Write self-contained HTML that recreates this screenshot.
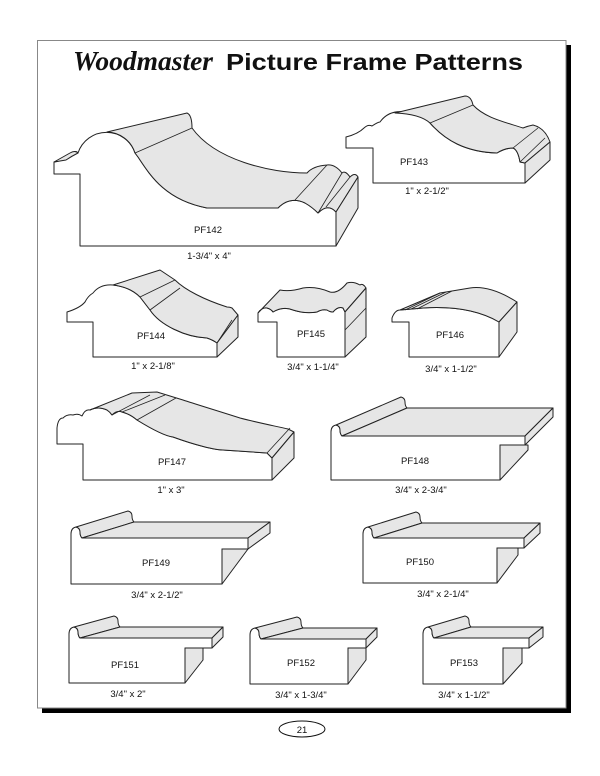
<!DOCTYPE html>
<html><head><meta charset="utf-8"><style>
html,body{margin:0;padding:0;background:#fff;}
svg{display:block;}
text{font-family:"Liberation Sans",sans-serif;fill:#111;}
.f{fill:#fff;stroke:#222;stroke-width:1;stroke-linejoin:round;}
.g{fill:#e6e6e6;stroke:#222;stroke-width:1;stroke-linejoin:round;}
.l{fill:none;stroke:#222;stroke-width:0.8;}
.lb{font-size:9.5px;text-anchor:middle;}
</style></head><body>
<svg width="600" height="776" viewBox="0 0 600 776" xmlns="http://www.w3.org/2000/svg">
<rect x="0" y="0" width="600" height="776" fill="#fff"/>
<!-- frame -->
<rect x="566" y="45" width="5" height="668" fill="#000"/>
<rect x="42" y="708" width="529" height="5" fill="#000"/>
<rect x="37.5" y="40.5" width="528.5" height="667.5" fill="none" stroke="#888" stroke-width="1"/>
<!-- title -->
<text x="73" y="70" font-family="Liberation Serif,serif" font-style="italic" font-weight="bold" font-size="27" textLength="140" lengthAdjust="spacingAndGlyphs" style="font-family:'Liberation Serif',serif">Woodmaster</text>
<text x="226" y="70" font-weight="bold" font-size="23" textLength="297" lengthAdjust="spacingAndGlyphs">Picture Frame Patterns</text>

<!-- PF142 -->
<path class="f" d="M54,174 L54,162 Q66,160 72,153 Q76,150 78,153 A30,30 0 0 1 135,153 L138,157 C150,175 165,200 207,208 L278,208 Q290,196 305,203 Q312,207 318,213 Q328,203 336,212 L336,246 L80,246 L80,174 Z"/>
<path class="g" d="M54,162 L70,153 Q75,150 78,153 Q72,156 66,160 Z"/>
<path class="g" d="M107,132 A30,30 0 0 1 135,153 L138,157 C150,175 165,200 207,208 L278,208 Q290,196 305,203 Q312,207 318,213 Q328,203 336,212 L358,177 Q355,172 350,177 Q345,170 342,173 Q335,164 327,165 Q313,166 307,173 C270,173 215,160 192,128 Q192,115 187,113 Z"/>
<path class="g" d="M336,212 L358,177 L358,208 L336,246 Z"/>
<path class="l" d="M135,153 L192,128 M295,200 L327,165 M318,213 L342,173 M326,207 L350,177"/>
<!-- PF143 -->
<path class="f" d="M346,148 L346,137 Q358,134 364,128 Q368,124 372,126 Q378,122 380,122 Q390,108 410,113 Q425,117 430,123 C445,140 465,152 497,153 Q505,148 513,148 Q518,150 520,162 L525,163 L525,183 L373,183 L373,148 Z"/>
<path class="g" d="M395,113 Q420,114 430,123 C445,140 465,152 497,153 Q505,148 513,148 Q518,150 520,162 L525,163 L550,142 Q545,128 533,125 Q528,126 523,128 C505,122 485,118 473,105 Q471,96 465,96 Z"/>
<path class="g" d="M525,163 L550,142 L550,160 L525,183 Z"/>
<path class="l" d="M430,123 L473,105 M513,148 L538,128 M520,162 L545,138"/>
<!-- PF144 -->
<path class="f" d="M67,322 L67,312 Q80,308 85,302 Q88,296 93,293 Q100,284 113,285 Q130,287 140,297 L150,310 C160,325 185,337 207,338 Q213,340 217,343 L217,357 L93,357 L93,322 Z"/>
<path class="g" d="M113,285 Q130,287 140,297 L150,310 C160,325 185,337 207,338 Q213,340 217,343 L238,315 L232,308 Q230,307 227,307 C205,300 185,290 175,280 L160,270 Z"/>
<path class="g" d="M217,343 L238,315 L238,337 L217,357 Z"/>
<path class="l" d="M140,297 L175,280 M150,310 L180,288 M217,343 L232,320"/>
<!-- PF145 -->
<path class="f" d="M258,322 L258,313 Q262,307 267,308 Q271,309 273,312 Q283,306 293,310 Q305,314 317,312 Q322,309 327,310 Q330,312 333,312 Q338,306 343,308 L345,312 L345,357 L277,357 L277,322 Z"/>
<path class="g" d="M258,313 Q262,307 267,308 Q271,309 273,312 Q283,306 293,310 Q305,314 317,312 Q322,309 327,310 Q330,312 333,312 Q338,306 343,308 L345,312 L366,288 Q363,283 360,285 Q353,281 347,283 Q338,294 330,292 Q316,286 303,288 Q290,292 280,290 Z"/>
<path class="g" d="M345,312 L366,288 L366,337 L345,357 Z"/>
<path class="l" d="M345,330 L366,308"/>
<!-- PF146 -->
<path class="f" d="M392,322 L392,318 Q395,310 400,310 L423,308 Q470,305 499,322 L499,357 L409,357 L409,322 Z"/>
<path class="g" d="M400,310 L423,308 Q470,305 499,322 L517,302 Q490,285 470,288 L440,293 Z"/>
<path class="g" d="M499,322 L517,302 L517,332 L499,357 Z"/>
<path class="l" d="M405,310 L440,293 M411,309 L446,292 M417,309 L452,291"/>
<!-- PF147 -->
<path class="f" d="M57,444 L57,428 Q58,418 63,418 Q67,414 73,415 Q78,413 82,416 Q85,409 90,410 Q98,406 107,410 Q110,412 112,415 Q117,410 122,412 Q130,414 137,420 C150,428 165,436 173,437 C195,445 215,450 223,450 L267,453 L272,458 L272,480 L83,480 L83,444 Z"/>
<path class="g" d="M90,410 Q98,406 107,410 Q110,412 112,415 Q117,410 122,412 Q130,414 137,420 C150,428 165,436 173,437 C195,445 215,450 223,450 L267,453 L272,458 L294,432 L288,429 C270,425 255,422 240,418 C215,410 195,404 183,400 L157,392 L132,393 Z"/>
<path class="g" d="M272,458 L294,432 L294,458 L272,480 Z"/>
<path class="l" d="M112,415 L150,395 M122,412 L165,395 M137,420 L176,398 M267,453 L290,428"/>
<!-- PF148 -->
<path class="f" d="M331,480 L331,432 Q331,426 336,425 Q340,426 340,430 Q340,434 342,436 L525,436 L525,445 L500,445 L500,480 Z"/>
<path class="g" d="M336,425 L401,397 Q405,398 405,402 Q405,406 407,408 L342,436 Q340,434 340,430 Q340,426 336,425 Z"/>
<path class="g" d="M342,436 L525,436 L553,408 L407,408 Z"/>
<path class="g" d="M525,436 L553,408 L553,417 L525,445 Z"/>
<path class="g" d="M500,445 L528,445 L528,450 L500,480 Z"/>
<!-- PF149 -->
<path class="f" d="M71,584 L71,534 Q71,528 76,527 Q80,528 80,532 Q80,536 82,538 L248,538 L248,549 L222,549 L222,584 Z"/>
<path class="g" d="M76,527 L128,511 Q132,512 132,516 Q132,520 134,522 L82,538 Q80,536 80,532 Q80,528 76,527 Z"/>
<path class="g" d="M82,538 L248,538 L270,522 L134,522 Z"/>
<path class="g" d="M248,538 L270,522 L270,533 L248,549 Z"/>
<path class="g" d="M222,549 L248,549 L222,584 Z"/>
<!-- PF150 -->
<path class="f" d="M363,583 L363,534 Q363,528 368,527 Q372,528 372,532 Q372,536 374,538 L524,538 L524,548 L497,548 L497,583 Z"/>
<path class="g" d="M368,527 L416,512 Q420,513 420,517 Q420,521 422,523 L374,538 Q372,536 372,532 Q372,528 368,527 Z"/>
<path class="g" d="M374,538 L524,538 L540,523 L422,523 Z"/>
<path class="g" d="M524,538 L540,523 L540,533 L524,548 Z"/>
<path class="g" d="M497,548 L518,548 L518,555 L497,583 Z"/>
<!-- PF151 -->
<path class="f" d="M69,683 L69,634 Q69,628 74,627 Q78,628 78,632 Q78,636 80,638 L212,638 L212,648 L185,648 L185,683 Z"/>
<path class="g" d="M74,627 L114,616 Q118,617 118,621 Q118,625 120,627 L80,638 Q78,636 78,632 Q78,628 74,627 Z"/>
<path class="g" d="M80,638 L212,638 L223,627 L120,627 Z"/>
<path class="g" d="M212,638 L223,627 L223,637 L212,648 Z"/>
<path class="g" d="M185,648 L203,648 L203,660 L185,683 Z"/>
<!-- PF152 -->
<path class="f" d="M250,684 L250,635 Q250,629 255,628 Q259,629 259,633 Q259,637 261,639 L366,639 L366,648 L348,648 L348,684 Z"/>
<path class="g" d="M255,628 L297,617 Q301,618 301,622 Q301,626 303,628 L261,639 Q259,637 259,633 Q259,629 255,628 Z"/>
<path class="g" d="M261,639 L366,639 L377,628 L303,628 Z"/>
<path class="g" d="M366,639 L377,628 L377,637 L366,648 Z"/>
<path class="g" d="M348,648 L366,648 L366,660 L348,684 Z"/>
<!-- PF153 -->
<path class="f" d="M423,684 L423,634 Q423,628 428,627 Q432,628 432,632 Q432,636 434,638 L529,638 L529,648 L503,648 L503,684 Z"/>
<path class="g" d="M428,627 L465,616 Q469,617 469,621 Q469,625 471,627 L434,638 Q432,636 432,632 Q432,628 428,627 Z"/>
<path class="g" d="M434,638 L529,638 L543,627 L471,627 Z"/>
<path class="g" d="M529,638 L543,627 L543,637 L529,648 Z"/>
<path class="g" d="M503,648 L522,648 L522,663 L503,684 Z"/>

<!-- labels -->
<text class="lb" x="208" y="233">PF142</text>
<text class="lb" x="209" y="259">1-3/4" x 4"</text>
<text class="lb" x="414" y="165">PF143</text>
<text class="lb" x="427" y="194">1" x 2-1/2"</text>
<text class="lb" x="151" y="339">PF144</text>
<text class="lb" x="153" y="369">1" x 2-1/8"</text>
<text class="lb" x="311" y="337">PF145</text>
<text class="lb" x="313" y="370">3/4" x 1-1/4"</text>
<text class="lb" x="450" y="338">PF146</text>
<text class="lb" x="451" y="372">3/4" x 1-1/2"</text>
<text class="lb" x="172" y="465">PF147</text>
<text class="lb" x="171" y="493">1" x 3"</text>
<text class="lb" x="415" y="464">PF148</text>
<text class="lb" x="421" y="493">3/4" x 2-3/4"</text>
<text class="lb" x="156" y="566">PF149</text>
<text class="lb" x="157" y="598">3/4" x 2-1/2"</text>
<text class="lb" x="420" y="565">PF150</text>
<text class="lb" x="443" y="597">3/4" x 2-1/4"</text>
<text class="lb" x="125" y="668">PF151</text>
<text class="lb" x="128" y="697">3/4" x 2"</text>
<text class="lb" x="301" y="666">PF152</text>
<text class="lb" x="301" y="698">3/4" x 1-3/4"</text>
<text class="lb" x="464" y="666">PF153</text>
<text class="lb" x="464" y="698">3/4" x 1-1/2"</text>

<!-- page number -->
<ellipse cx="302" cy="729" rx="23" ry="8" fill="#fff" stroke="#111" stroke-width="1"/>
<text class="lb" x="302" y="733">21</text>
</svg>
</body></html>
